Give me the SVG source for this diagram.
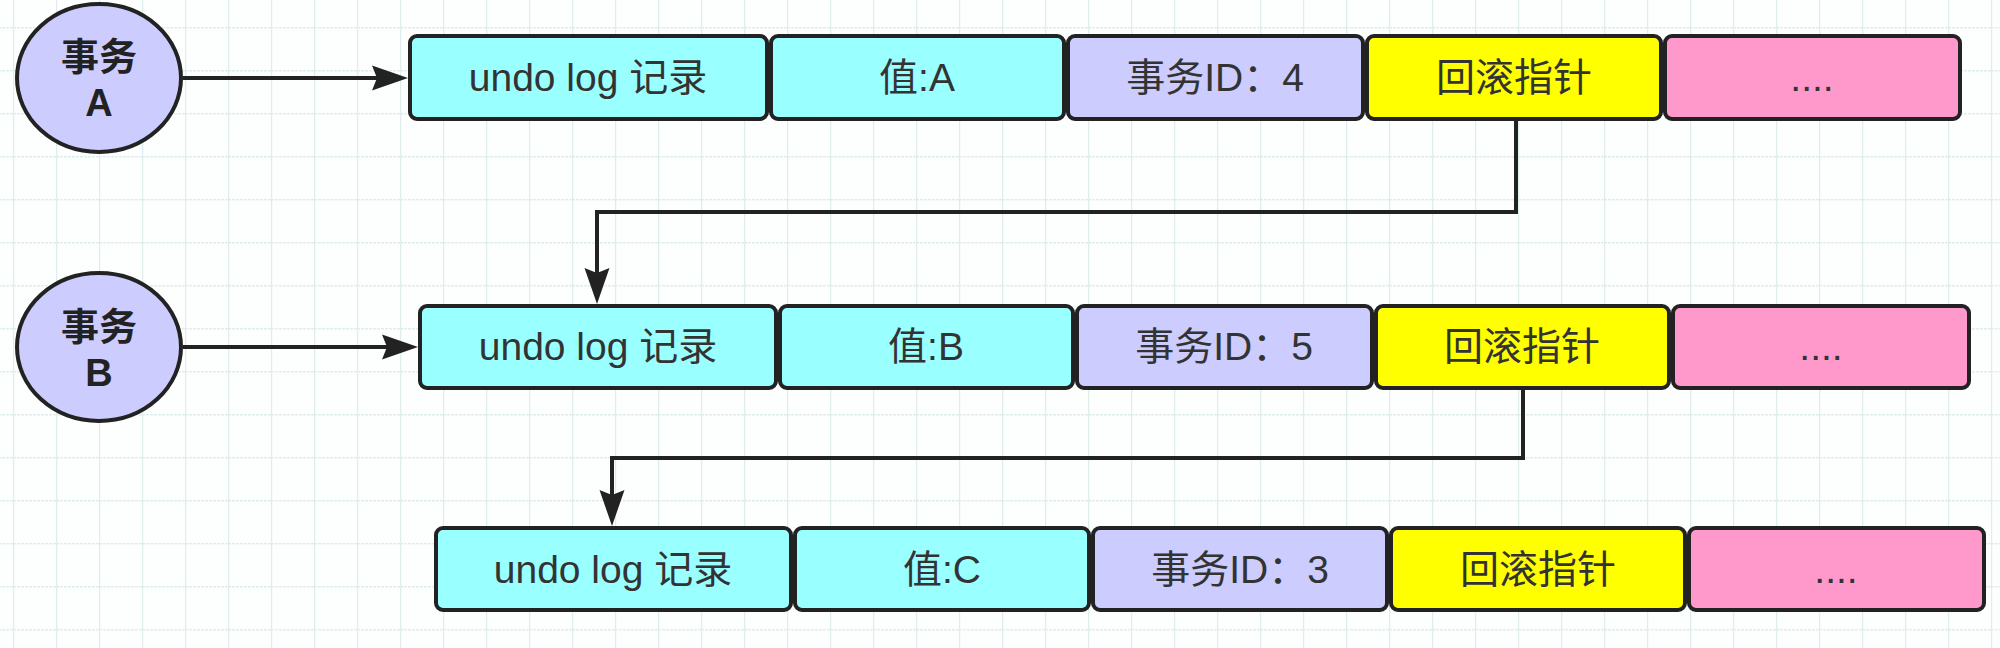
<svg xmlns="http://www.w3.org/2000/svg" width="2000" height="648" viewBox="0 0 2000 648">
<style>
.cell{stroke:#222;stroke-width:4}
.cyan{fill:#99FFFF}.lav{fill:#CCCCFF}.yel{fill:#FFFF00}.pink{fill:#FF99CC}
.t{font-family:"Liberation Sans","Noto Sans CJK SC",sans-serif;font-size:39px;fill:#333;text-anchor:middle}
.c{font-family:"Liberation Sans","Noto Sans CJK SC",sans-serif;font-size:38px;font-weight:bold;fill:#222;text-anchor:middle}
.circ{fill:#CCCCFF;stroke:#222;stroke-width:4}
.conn{fill:none;stroke:#222;stroke-width:4}
</style>
<defs>
<pattern id="grid" x="13" y="27" width="43" height="43" patternUnits="userSpaceOnUse">
<line x1="0.5" y1="0" x2="0.5" y2="43" stroke="#e0eded" stroke-width="1.5"/>
<line x1="0" y1="0.5" x2="43" y2="0.5" stroke="#e0eded" stroke-width="2" stroke-dasharray="3 1"/>
</pattern>
<marker id="arr" markerUnits="userSpaceOnUse" markerWidth="40" markerHeight="30" refX="5" refY="15" orient="auto" overflow="visible">
<path d="M0,2.5 L36,15 L0,27.5 L5,15 Z" fill="#222"/>
</marker>
</defs>
<rect width="2000" height="648" fill="#fdfefe"/>
<rect width="2000" height="648" fill="url(#grid)"/>

<g id="connectors">
<path class="conn" d="M183,78 H377" marker-end="url(#arr)"/>
<path class="conn" d="M183,347 H387" marker-end="url(#arr)"/>
<path class="conn" d="M1516,121 V212 H597 V273" marker-end="url(#arr)"/>
<path class="conn" d="M1523,390 V458 H612 V495" marker-end="url(#arr)"/>
</g>

<g id="txA">
<ellipse class="circ" cx="99" cy="78" rx="82" ry="74"/>
<text class="c" x="99" y="70">事务</text>
<text class="c" x="99" y="116">A</text>
</g>
<g id="txB">
<ellipse class="circ" cx="99" cy="347" rx="82" ry="74"/>
<text class="c" x="99" y="340">事务</text>
<text class="c" x="99" y="386">B</text>
</g>

<g id="rowA">
<rect class="cell cyan" x="410" y="36" width="357" height="83" rx="7"/>
<text class="t" x="588" y="91">undo log 记录</text>
<rect class="cell cyan" x="771" y="36" width="293" height="83" rx="7"/>
<text class="t" x="917" y="91">值:A</text>
<rect class="cell lav" x="1068" y="36" width="295" height="83" rx="7"/>
<text class="t" x="1215" y="91">事务ID：4</text>
<rect class="cell yel" x="1367" y="36" width="294" height="83" rx="7"/>
<text class="t" x="1514" y="91">回滚指针</text>
<rect class="cell pink" x="1665" y="36" width="295" height="83" rx="7"/>
<text class="t" x="1812" y="91">....</text>
</g>

<g id="rowB">
<rect class="cell cyan" x="420" y="306" width="356" height="82" rx="7"/>
<text class="t" x="598" y="360">undo log 记录</text>
<rect class="cell cyan" x="780" y="306" width="293" height="82" rx="7"/>
<text class="t" x="926" y="360">值:B</text>
<rect class="cell lav" x="1077" y="306" width="295" height="82" rx="7"/>
<text class="t" x="1224" y="360">事务ID：5</text>
<rect class="cell yel" x="1376" y="306" width="293" height="82" rx="7"/>
<text class="t" x="1522" y="360">回滚指针</text>
<rect class="cell pink" x="1673" y="306" width="296" height="82" rx="7"/>
<text class="t" x="1821" y="360">....</text>
</g>

<g id="rowC">
<rect class="cell cyan" x="436" y="528" width="355" height="82" rx="7"/>
<text class="t" x="613" y="583">undo log 记录</text>
<rect class="cell cyan" x="795" y="528" width="294" height="82" rx="7"/>
<text class="t" x="942" y="583">值:C</text>
<rect class="cell lav" x="1093" y="528" width="294" height="82" rx="7"/>
<text class="t" x="1240" y="583">事务ID：3</text>
<rect class="cell yel" x="1391" y="528" width="294" height="82" rx="7"/>
<text class="t" x="1538" y="583">回滚指针</text>
<rect class="cell pink" x="1689" y="528" width="295" height="82" rx="7"/>
<text class="t" x="1836" y="583">....</text>
</g>
</svg>
